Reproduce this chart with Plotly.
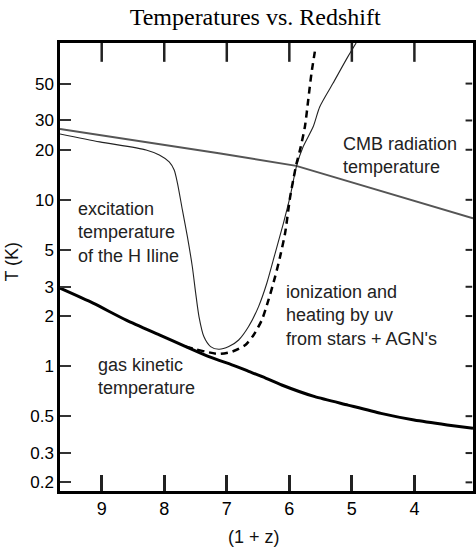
import plotly.graph_objects as go

# ---- data ----
# x is (1 + z); y is temperature in K
cmb_x = [9.667, 8.397, 7.127, 5.889, 4.587, 3.063]
cmb_T = [26.7, 22.6, 19.05, 16.0, 11.5, 7.74]

exc_x = [9.667, 9.032, 8.290, 8.079, 7.921, 7.841, 7.789, 7.710, 7.630, 7.551,
         7.497, 7.444, 7.365, 7.259, 7.127, 6.968, 6.810, 6.651, 6.492, 6.360,
         6.227, 6.095, 5.989, 5.884, 5.778, 5.619, 5.513, 5.302, 5.063, 4.932]
exc_T = [24.9, 22.3, 19.95, 18.6, 16.9, 15.1, 12.6, 8.69, 6.00, 3.96,
         2.74, 1.98, 1.50, 1.31, 1.262, 1.31, 1.436, 1.73, 2.28, 3.15,
         4.77, 7.22, 10.4, 16.0, 20.9, 27.5, 36.3, 50.2, 72.6, 87.7]

ion_x = [7.656, 7.497, 7.338, 7.127, 6.916, 6.703, 6.571, 6.440, 6.333, 6.227,
         6.148, 6.068, 5.989, 5.937, 5.884, 5.830, 5.751, 5.698, 5.646, 5.592]
ion_T = [1.31, 1.262, 1.222, 1.183, 1.222, 1.34, 1.54, 1.89, 2.50, 3.45,
         4.55, 6.29, 10.3, 13.2, 16.6, 19.9, 27.5, 39.8, 57.6, 77.8]

gas_x = [9.667, 9.138, 8.608, 8.079, 7.656, 7.286, 6.862, 6.651, 6.386, 6.122,
         5.592, 5.063, 4.535, 4.005, 3.476, 3.063]
gas_T = [2.94, 2.39, 1.89, 1.54, 1.31, 1.14, 1.00, 0.93, 0.85, 0.77,
         0.655, 0.583, 0.520, 0.474, 0.443, 0.423]

x_ticks = [9, 8, 7, 6, 5, 4]
y_ticks = [50, 30, 20, 10, 5, 3, 2, 1, 0.5, 0.3, 0.2]
y_tick_text = ["50", "30", "20", "10", "5", "3", "2", "1", "0.5", "0.3", "0.2"]

title_text = "Temperatures vs. Redshift"
x_title = "(1 + z)"
y_title = "T (K)"
labels = [
    ("CMB radiation<br>temperature", 0.680, 0.750),
    ("excitation<br>temperature<br>of the H Iline", 0.0385, 0.578),
    ("ionization and<br>heating by uv<br>from stars + AGN's", 0.543, 0.3915),
    ("gas kinetic<br>temperature", 0.088, 0.2545),
]

SANS = "Liberation Sans, Arial, Helvetica, sans-serif"
SERIF = "Liberation Serif, Times New Roman, serif"

fig = go.Figure()
fig.add_trace(go.Scatter(x=cmb_x, y=cmb_T, mode="lines",
                         line=dict(color="#555555", width=2), hoverinfo="skip"))
fig.add_trace(go.Scatter(x=exc_x, y=exc_T, mode="lines",
                         line=dict(color="#222222", width=1.1, shape="spline", smoothing=0.7),
                         hoverinfo="skip"))
fig.add_trace(go.Scatter(x=ion_x, y=ion_T, mode="lines",
                         line=dict(color="black", width=2.5, dash="7px,5px", shape="spline", smoothing=0.7),
                         hoverinfo="skip"))
fig.add_trace(go.Scatter(x=gas_x, y=gas_T, mode="lines",
                         line=dict(color="black", width=3, shape="spline", smoothing=0.6),
                         hoverinfo="skip"))

# tick marks along the top and right frame edges (at the axis tick values)
for v in x_ticks:
    fig.add_shape(type="line", xref="x", yref="paper", x0=v, x1=v, y0=1.0, y1=0.958,
                  line=dict(color="#222222", width=2.5), layer="above")
for v in y_ticks:
    fig.add_shape(type="line", xref="paper", yref="y", x0=0.998, x1=0.982, y0=v, y1=v,
                  line=dict(color="#222222", width=2), layer="above")

for txt, ax, ay in labels:
    fig.add_annotation(text=txt, xref="paper", yref="paper", x=ax, y=ay,
                       xanchor="left", yanchor="middle", align="left", showarrow=False,
                       font=dict(family=SANS, size=18, color="#222222"))

fig.add_annotation(text=x_title, xref="paper", yref="paper", x=0.469, y=-0.1027,
                   xanchor="center", yanchor="middle", showarrow=False,
                   font=dict(family=SANS, size=18, color="#111111"))
fig.add_annotation(text=y_title, xref="paper", yref="paper", x=-0.115, y=0.511,
                   xanchor="center", yanchor="middle", showarrow=False, textangle=-90,
                   font=dict(family=SANS, size=18, color="#111111"))

fig.update_layout(
    width=476, height=548,
    margin=dict(l=60, r=0, t=43, b=57),
    paper_bgcolor="white", plot_bgcolor="white",
    showlegend=False,
    title=dict(text=title_text, xref="container", x=0.536, xanchor="center",
               y=0.969, yanchor="middle",
               font=dict(family=SERIF, size=24, color="black")),
    xaxis=dict(range=[9.667, 3.063], tickmode="array", tickvals=x_ticks,
               ticktext=[str(v) for v in x_ticks],
               showgrid=False, zeroline=False, showline=True, linecolor="black", linewidth=2.5,
               mirror=True, ticks="inside", ticklen=16, tickwidth=2.5, tickcolor="#222222",
               tickfont=dict(family=SANS, size=18, color="black")),
    yaxis=dict(type="log", range=[-0.751, 1.943], tickmode="array", tickvals=y_ticks,
               ticktext=y_tick_text,
               showgrid=False, zeroline=False, showline=True, linecolor="black", linewidth=2.5,
               mirror=True, ticks="inside", ticklen=11, tickwidth=1.5, tickcolor="#333333",
               tickfont=dict(family=SANS, size=17, color="black")),
)

fig.write_html("out.html", config={"displayModeBar": False},
               post_script="document.body.style.margin='0';document.body.style.overflow='hidden';")
